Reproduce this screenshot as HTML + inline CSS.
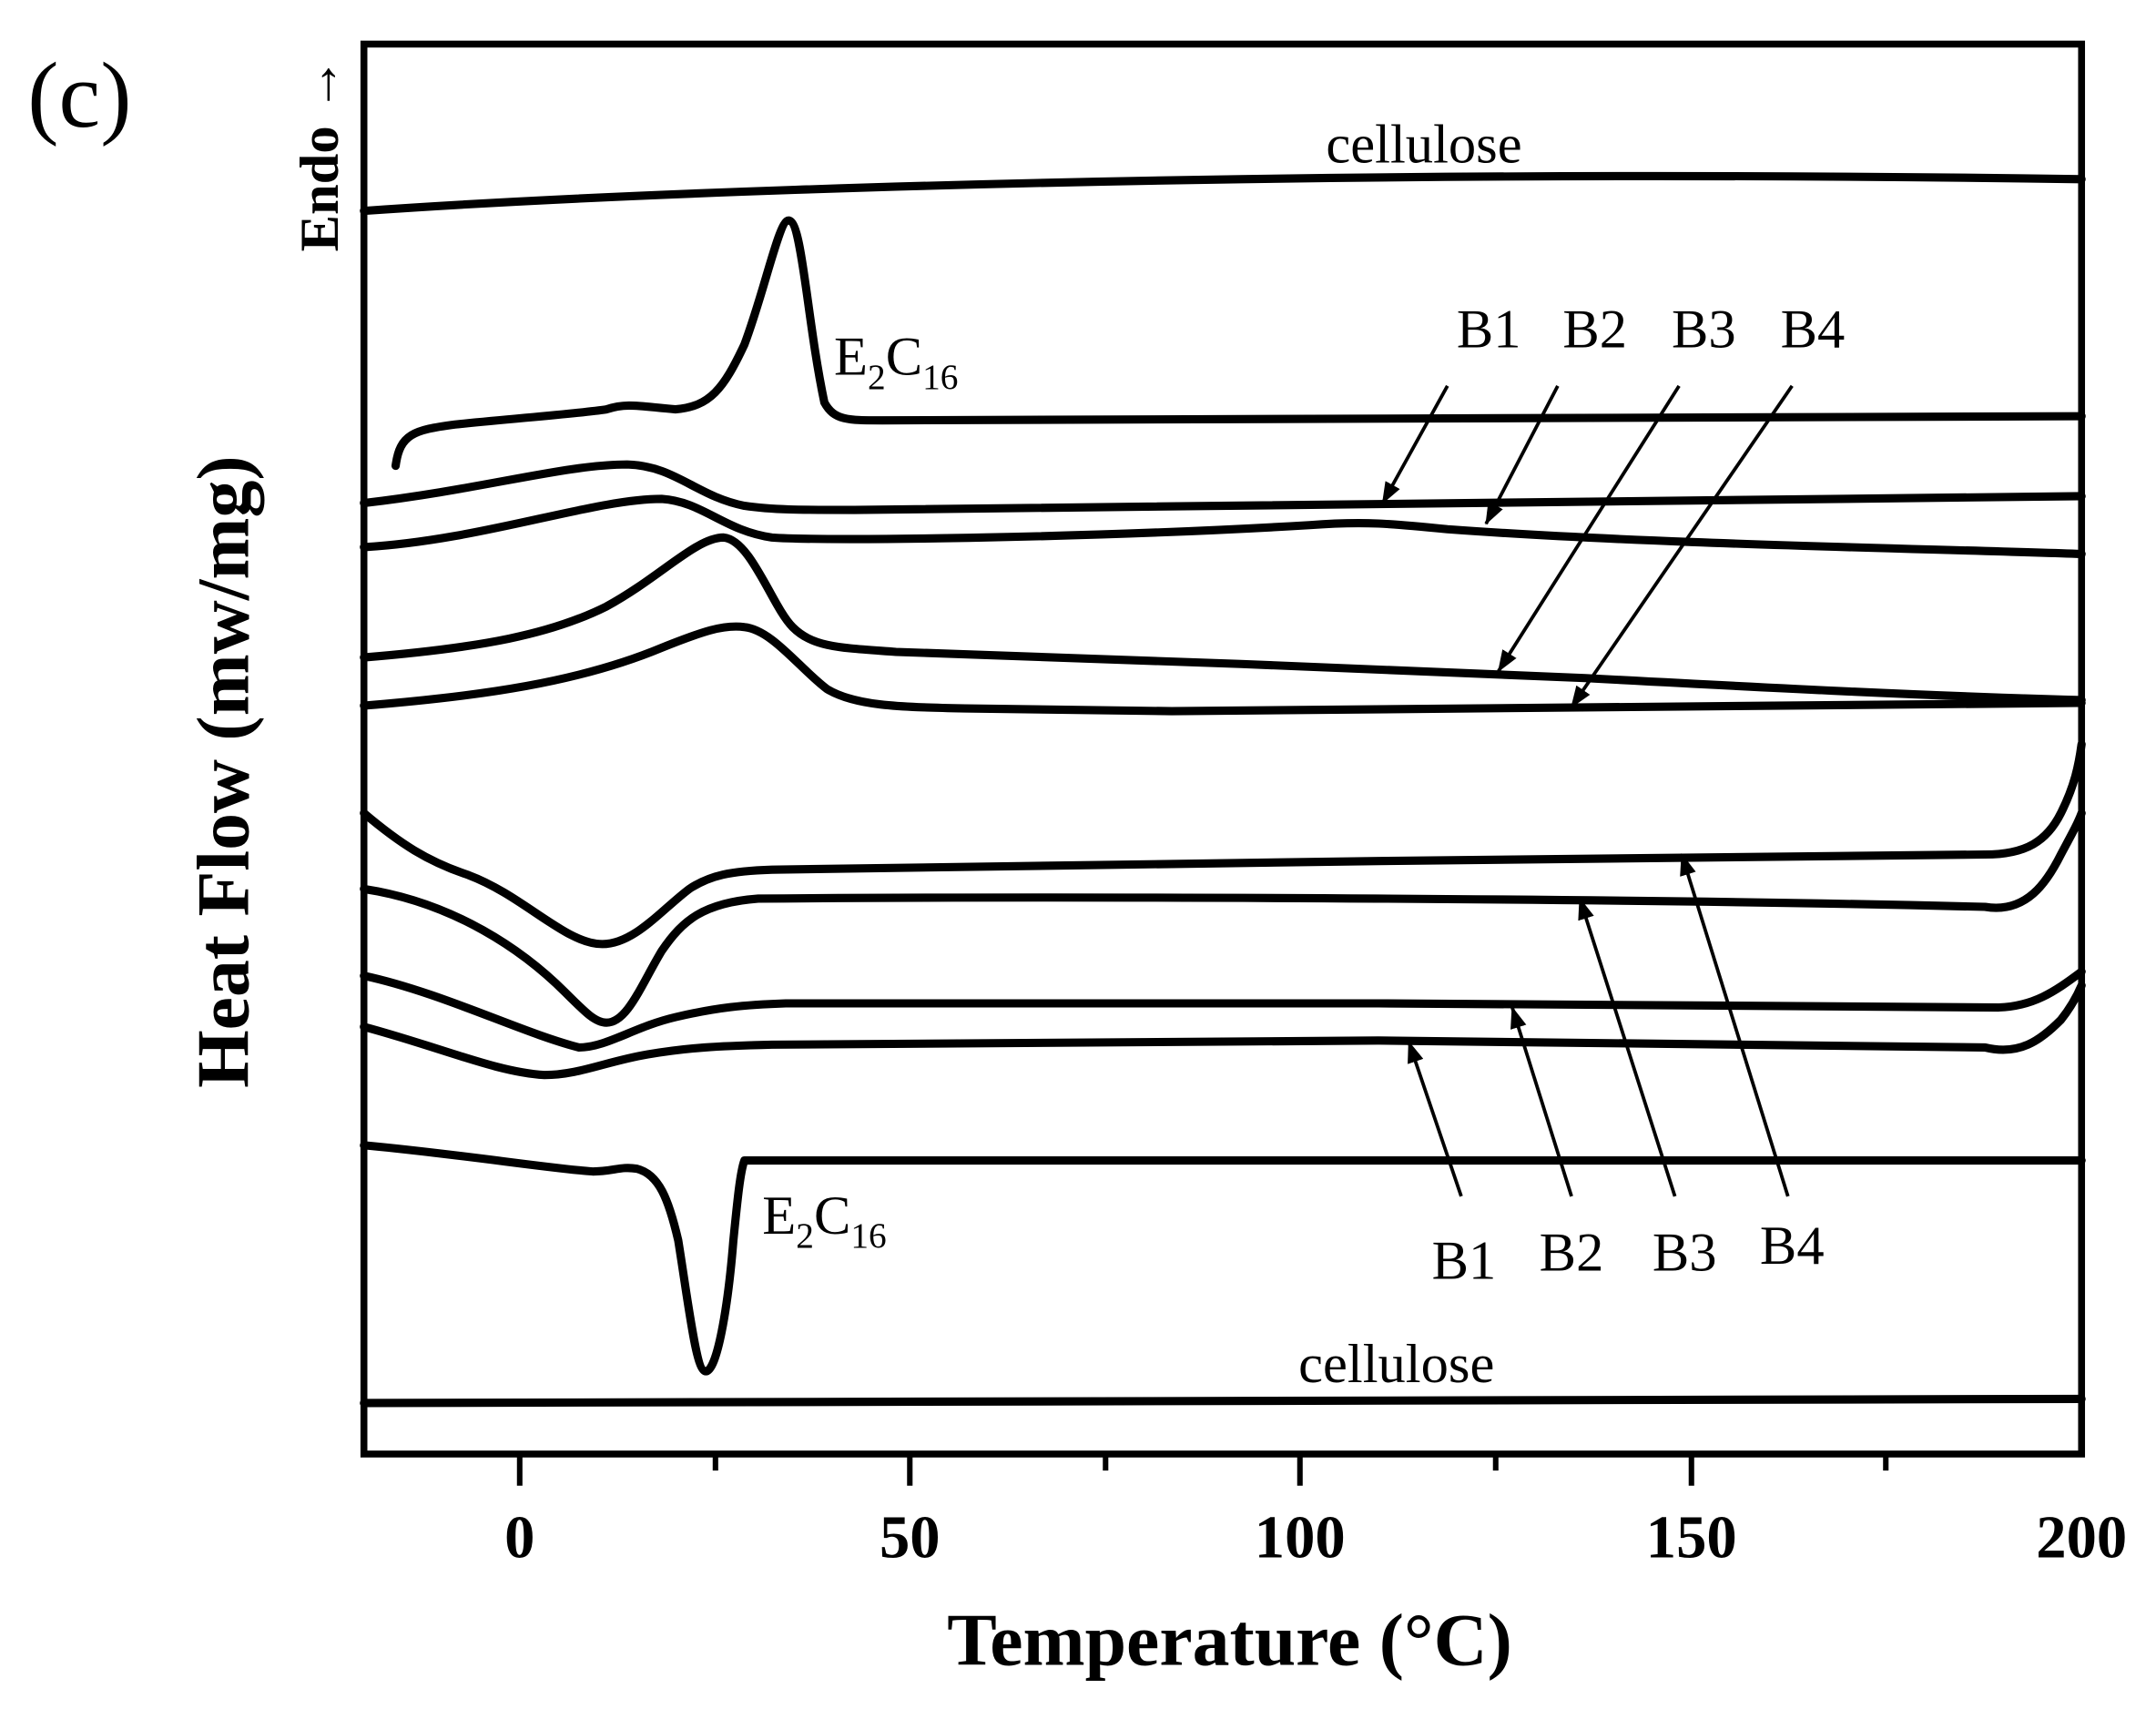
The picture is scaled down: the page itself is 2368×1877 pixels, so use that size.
<!DOCTYPE html>
<html><head><meta charset="utf-8"><style>html,body{margin:0;padding:0;background:#fff}svg{display:block}</style></head>
<body>
<svg width="2368" height="1877" viewBox="0 0 1564 1240" preserveAspectRatio="none" xmlns="http://www.w3.org/2000/svg" font-family="Liberation Serif, serif">
<defs>
<marker id="ah2" markerWidth="16" markerHeight="12" refX="15" refY="6" orient="auto" markerUnits="userSpaceOnUse"><path d="M0,0 L16,6 L0,12 Z" fill="#000"/></marker></defs>
<rect x="264" y="32" width="1246" height="1023" fill="none" stroke="#000" stroke-width="5"/>
<g stroke="#000" stroke-width="4">
<line x1="377" y1="1055" x2="377" y2="1078"/><line x1="660" y1="1055" x2="660" y2="1078"/><line x1="943" y1="1055" x2="943" y2="1078"/><line x1="1227" y1="1055" x2="1227" y2="1078"/>
<line x1="519" y1="1055" x2="519" y2="1067"/><line x1="802" y1="1055" x2="802" y2="1067"/><line x1="1085" y1="1055" x2="1085" y2="1067"/><line x1="1368" y1="1055" x2="1368" y2="1067"/>
</g>
<g font-size="44" font-weight="bold" text-anchor="middle">
<text x="377" y="1130">0</text><text x="660" y="1130">50</text><text x="943" y="1130">100</text><text x="1227" y="1130">150</text><text x="1510" y="1130">200</text>
</g>
<text x="892" y="1208" font-size="54" font-weight="bold" text-anchor="middle">Temperature (°C)</text>
<text transform="translate(180,560) rotate(-90)" font-size="54" font-weight="bold" text-anchor="middle">Heat Flow (mw/mg)</text>
<text transform="translate(245,112) rotate(-90)" font-size="40" font-weight="bold" text-anchor="middle">Endo →</text>
<text x="20" y="92" font-size="68">(c)</text>
<g fill="none" stroke="#000" stroke-width="6" stroke-linejoin="round" stroke-linecap="round">
<path d="M264,153 C450,140 700,133 900,130 C1100,127 1300,127 1510,130"/>
<path d="M287,338 C290,315 300,312 330,308 C380,303 420,300 440,297 C455,292 465,295 490,297 C515,295 525,282 540,250 C555,210 565,160 572,160 C582,160 585,230 598,292 C605,305 615,305 640,305 L1510,302"/>
<path d="M264,365 C350,355 410,337 455,337 C490,338 505,360 540,367 C560,370 580,370 620,370 L1510,360"/>
<path d="M264,397 C350,392 430,362 480,362 C510,364 525,385 560,390 C600,393 800,390 950,381 C990,378 1010,380 1050,384 C1200,395 1400,398 1510,402"/>
<path d="M264,477 C350,470 400,460 440,440 C480,418 505,390 525,390 C545,392 560,440 575,455 C590,470 610,470 650,473 C800,478 1000,485 1150,492 C1300,500 1400,505 1510,508"/>
<path d="M264,512 C350,505 420,495 480,470 C510,458 525,453 540,455 C560,457 580,485 600,500 C620,512 650,513 700,514 L850,516 L1510,510"/>
<path d="M264,590 C290,612 310,625 340,635 C380,650 410,685 437,685 C460,685 480,660 500,645 C515,635 530,632 560,631 C800,627 1200,622 1440,620 C1470,620 1485,610 1495,590 C1505,570 1508,555 1510,540"/>
<path d="M264,645 C330,655 380,690 410,720 C425,735 432,742 440,742 C455,742 465,715 480,690 C495,668 510,655 550,652 C800,650 1200,652 1440,658 C1470,663 1485,640 1495,620 C1503,605 1507,598 1510,590"/>
<path d="M264,708 C320,720 380,750 420,760 C440,760 460,745 490,738 C520,731 540,729 570,728 L1000,728 L1450,731 C1475,730 1490,720 1510,705"/>
<path d="M264,745 C320,760 360,778 395,780 C420,780 440,770 470,765 C500,760 520,759 560,758 L1000,755 L1440,760 C1465,766 1480,755 1495,740 C1503,730 1507,722 1510,715"/>
<path d="M264,831 C330,837 400,848 430,850 C445,850 450,846 462,848 C478,852 485,870 492,900 C500,950 505,995 512,995 C520,995 528,950 532,900 C535,870 537,850 540,842 L1510,842"/>
<path d="M264,1018 L1510,1015"/>
</g>
<g stroke="#000" stroke-width="2.5" fill="none">
<line x1="1050" y1="280" x2="1003" y2="365" marker-end="url(#ah2)"/>
<line x1="1130" y1="280" x2="1078" y2="380" marker-end="url(#ah2)"/>
<line x1="1218" y1="280" x2="1087" y2="487" marker-end="url(#ah2)"/>
<line x1="1300" y1="280" x2="1140" y2="513" marker-end="url(#ah2)"/>
<line x1="1060" y1="868" x2="1022" y2="756" marker-end="url(#ah2)"/>
<line x1="1140" y1="868" x2="1097" y2="731" marker-end="url(#ah2)"/>
<line x1="1215" y1="868" x2="1146" y2="652" marker-end="url(#ah2)"/>
<line x1="1297" y1="868" x2="1220" y2="620" marker-end="url(#ah2)"/>
</g>
<g font-size="40">
<text x="1033" y="118" text-anchor="middle">cellulose</text>
<text x="1013" y="1003" text-anchor="middle">cellulose</text>
<text x="605" y="272">E<tspan font-size="26" dy="10">2</tspan><tspan dy="-10">C</tspan><tspan font-size="26" dy="10">16</tspan></text>
<text x="553" y="895">E<tspan font-size="26" dy="10">2</tspan><tspan dy="-10">C</tspan><tspan font-size="26" dy="10">16</tspan></text>
<text x="1080" y="252" text-anchor="middle">B1</text><text x="1157" y="252" text-anchor="middle">B2</text><text x="1236" y="252" text-anchor="middle">B3</text><text x="1315" y="252" text-anchor="middle">B4</text>
<text x="1062" y="928" text-anchor="middle">B1</text><text x="1140" y="922" text-anchor="middle">B2</text><text x="1222" y="922" text-anchor="middle">B3</text><text x="1300" y="917" text-anchor="middle">B4</text>
</g>
</svg>
</body></html>
